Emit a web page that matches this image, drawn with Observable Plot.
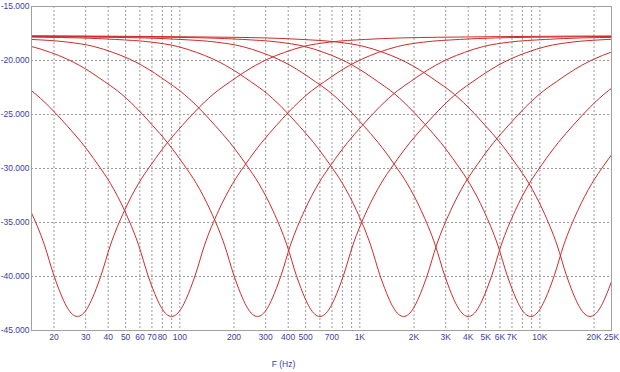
<!DOCTYPE html>
<html>
<head>
<meta charset="utf-8">
<script src="https://cdn.jsdelivr.net/npm/d3@7"></script>
<script src="https://cdn.jsdelivr.net/npm/@observablehq/plot@0.6"></script>
<style>
  html, body { margin: 0; padding: 0; background: #fff; }
  #chart svg { display: block; }
</style>
</head>
<body>
<div id="chart"></div>
<script>
// ---- data ----
const freqDomain = [15, 25000];
const dbDomain = [-45, -15];
const dbTicks = [-45, -40, -35, -30, -25, -20, -15];
const freqTicks = [20, 30, 40, 50, 60, 70, 80, 100, 200, 300, 400, 500, 700, 1000, 2000, 3000, 4000, 5000, 6000, 7000, 10000, 20000, 25000];
const freqTickLabels = ["20", "30", "40", "50", "60", "70", "80", "100", "200", "300", "400", "500", "700", "1K", "2K", "3K", "4K", "5K", "6K", "7K", "10K", "20K", "25K"];
const gridFreqs = [20, 30, 40, 50, 60, 70, 80, 90, 100, 200, 300, 400, 500, 600, 700, 800, 900, 1000, 2000, 3000, 4000, 5000, 6000, 7000, 8000, 9000, 10000, 20000];
const gridDb = [-40, -35, -30, -25, -20];

// notch centre frequencies (Hz) of the eight curves
const notchCenters = [27, 90, 270, 600, 1750, 4000, 8900, 19000];
// common notch profile: distance from the centre (decades) -> level (dB)
const shapeOffsets = [0, 0.028, 0.056, 0.083, 0.105, 0.131, 0.183, 0.261, 0.339, 0.411, 0.5, 0.583, 0.678, 0.778, 0.85, 0.92, 0.989, 1.06, 1.15, 1.256, 1.4, 1.6, 2.0, 3.4];
const shapeDb = [-43.7, -43.5, -42.9, -42.0, -41.1, -39.9, -37.1, -33.9, -31.4, -29.6, -27.6, -26.0, -24.3, -22.8, -21.95, -21.15, -20.45, -19.85, -19.25, -18.7, -18.3, -18.05, -17.85, -17.7];

// ---- build table ----
const rows = [];
notchCenters.forEach((fc, k) => {
  const pts = [];
  for (let i = shapeOffsets.length - 1; i > 0; i--) pts.push({f: fc / Math.pow(10, shapeOffsets[i]), db: shapeDb[i]});
  for (let i = 0; i < shapeOffsets.length; i++) pts.push({f: fc * Math.pow(10, shapeOffsets[i]), db: shapeDb[i]});
  pts.forEach(p => rows.push({...p, curve: k}));
});

const labelColor = "#3c3ca8";

const chart = Plot.plot({
  width: 620,
  height: 372,
  marginLeft: 31,
  marginRight: 9,
  marginTop: 6,
  marginBottom: 42,
  style: {fontFamily: "Liberation Sans, Arial, sans-serif", fontSize: "8.5px", background: "#fff"},
  x: {type: "log", domain: freqDomain, axis: null},
  y: {domain: dbDomain, axis: null},
  marks: [
    Plot.ruleX(gridFreqs, {x: d => d, stroke: "#9a9a9a", strokeWidth: 1, strokeDasharray: "2,2"}),
    Plot.ruleY(gridDb, {y: d => d, stroke: "#9a9a9a", strokeWidth: 1, strokeDasharray: "2,2"}),
    Plot.line(rows, {x: "f", y: "db", z: "curve", stroke: "#d02a2a", strokeWidth: 1, curve: "monotone-x", clip: true}),
    Plot.frame({stroke: "#a0a0a0", strokeWidth: 1}),
    Plot.text(dbTicks, {y: d => d, text: d => d.toFixed(3), frameAnchor: "left", textAnchor: "end", dx: -2, fill: labelColor, fontSize: 8.5}),
    Plot.text(freqTicks, {x: d => d, text: (d, i) => freqTickLabels[i], frameAnchor: "bottom", dy: 3, lineAnchor: "top", fill: labelColor, fontSize: 8.5}),
    Plot.text(["F (Hz)"], {frameAnchor: "bottom", dx: -38, dy: 36, fill: labelColor, fontSize: 8.5})
  ]
});
document.getElementById("chart").appendChild(chart);
</script>
</body>
</html>
